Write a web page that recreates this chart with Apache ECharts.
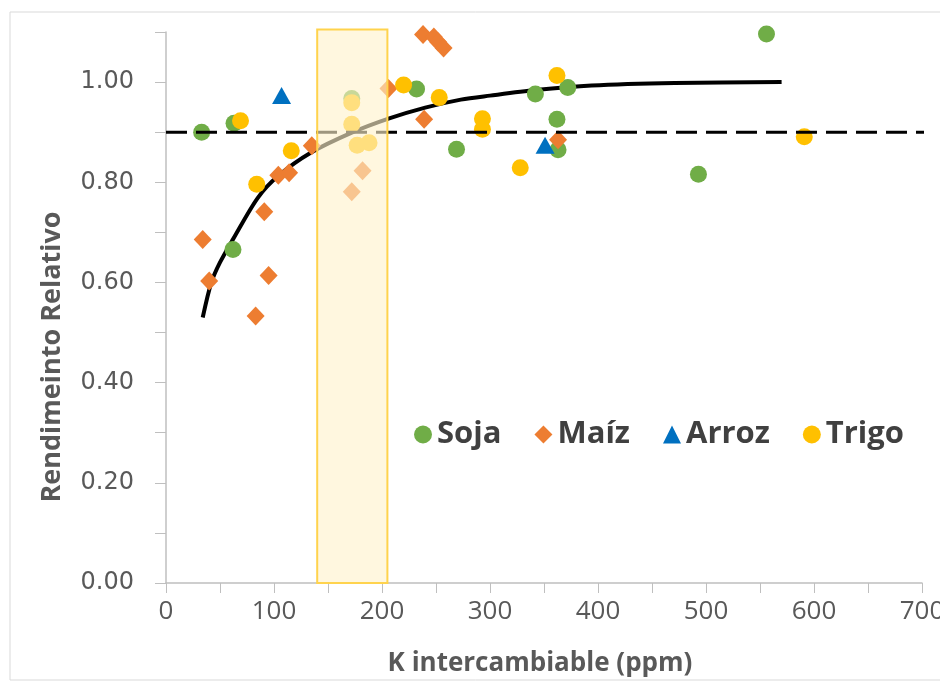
<!DOCTYPE html>
<html>
<head>
<meta charset="utf-8">
<script src="https://cdn.jsdelivr.net/npm/echarts@6/dist/echarts.min.js"></script>
<style>
html,body{margin:0;padding:0;background:#fff;}
#chart{width:940px;height:687px;}
</style>
</head>
<body>
<div id="chart"></div>
<script>
// ---- data ----
const soja = [[33,0.90],[63,0.918],[62,0.666],[172,0.967],[232,0.986],[269,0.866],[342,0.976],[362,0.926],[363,0.865],[372,0.989],[493,0.816],[556,1.096]];
const maiz = [[34,0.686],[40,0.603],[83,0.533],[91,0.741],[95,0.614],[104,0.814],[114,0.819],[135,0.873],[172,0.781],[182,0.823],[206,0.987],[239,0.926],[238,1.095],[248,1.09],[252,1.08],[257,1.068],[363,0.885]];
const arroz = [[107,0.973],[351,0.874]];
const trigo = [[69,0.923],[84,0.796],[116,0.863],[172,0.959],[172,0.916],[177,0.874],[188,0.879],[220,0.994],[253,0.969],[293,0.927],[293,0.906],[328,0.829],[362,1.013],[591,0.891]];
const curve = [[34,0.53],[42,0.60],[50,0.64],[62,0.686],[85,0.769],[104,0.813],[134,0.859],[172,0.899],[206,0.927],[240,0.949],[273,0.965],[300,0.973],[342,0.984],[394,0.993],[471,0.998],[570,1.0]];
const threshold = [[0,0.90],[711,0.90]];
const criticalRange = [[140,205,1.105]];
const legendNames = ['Soja','Maíz','Arroz','Trigo'];
const xTitle = 'K intercambiable (ppm)';
const yTitle = 'Rendimeinto Relativo';

const chart = echarts.init(document.getElementById('chart'));
const axisGray = '#bfbfbf';
const labelGray = '#595959';

chart.setOption({
  animation: false,
  backgroundColor: '#fff',
  grid: {left: 166, right: 18, top: 32, bottom: 104, outerBoundsMode: 'none', containLabel: false},
  graphic: [
    {type: 'rect', shape: {x: 10, y: 12, width: 940, height: 668}, style: {fill: 'none', stroke: '#d9d9d9', lineWidth: 1}, z: -10},
    {type: 'text', x: 540, y: 664, style: {text: xTitle, font: 'bold 26px "Open Sans"', fill: labelGray, textAlign: 'center', textVerticalAlign: 'middle'}},
    {type: 'text', x: 52, y: 357, rotation: Math.PI/2, style: {text: yTitle, font: 'bold 27px "Open Sans"', fill: labelGray, textAlign: 'center', textVerticalAlign: 'middle'}}
  ],
  legend: {
    data: legendNames,
    left: 409, top: 414,
    itemWidth: 18, itemHeight: 18, itemGap: 33,
    textStyle: {fontSize: 31, fontWeight: 'bold', color: '#404040', fontFamily: 'Open Sans'}
  },
  xAxis: {
    type: 'value', min: 0, max: 700, interval: 50,
    axisLine: {show: true, lineStyle: {color: axisGray, width: 1.5}},
    axisTick: {show: true, length: 10, lineStyle: {color: axisGray}},
    splitLine: {show: false},
    axisLabel: {margin: 16, color: labelGray, fontSize: 26, fontFamily: 'Open Sans',
      formatter: v => (Math.round(v) % 100 === 0 ? String(v) : '')}
  },
  yAxis: {
    type: 'value', min: 0, max: 1.1, interval: 0.1,
    axisLine: {show: true, lineStyle: {color: axisGray, width: 1.5}},
    axisTick: {show: true, length: 11, lineStyle: {color: axisGray}},
    splitLine: {show: false},
    axisLabel: {margin: 32, color: labelGray, fontSize: 24, fontFamily: 'DejaVu Sans',
      formatter: v => (Math.round(v * 10) % 2 === 0 ? v.toFixed(2) : '')}
  },
  series: [
    {type: 'line', name: 'curve', data: curve, smooth: 0.3, symbol: 'none', z: 1,
     lineStyle: {color: '#000', width: 4}},
    {type: 'scatter', name: 'Soja', data: soja, symbol: 'circle', symbolSize: 17, z: 2,
     itemStyle: {color: '#70AD47', opacity: 1}},
    {type: 'scatter', name: 'Maíz', data: maiz, symbol: 'diamond', symbolSize: [18, 19], z: 2,
     itemStyle: {color: '#ED7D31', opacity: 1}},
    {type: 'scatter', name: 'Arroz', data: arroz, symbol: 'triangle', symbolSize: [19, 17], z: 2,
     itemStyle: {color: '#0070C0', opacity: 1}},
    {type: 'scatter', name: 'Trigo', data: trigo, symbol: 'circle', symbolSize: 17, z: 2,
     itemStyle: {color: '#FFC000', opacity: 1}},
    {type: 'line', name: 'umbral', data: threshold, symbol: 'none', clip: false, z: 3,
     lineStyle: {color: '#000', width: 3, type: [21, 9]}},
    {type: 'custom', name: 'rango', data: criticalRange, z: 4, clip: false,
     encode: {x: [0, 1], y: 2},
     renderItem: function (params, api) {
       const p0 = api.coord([api.value(0), 0]);
       const p1 = api.coord([api.value(1), api.value(2)]);
       return {type: 'rect',
         shape: {x: p0[0], y: p1[1], width: p1[0] - p0[0], height: p0[1] - p1[1]},
         style: {fill: 'rgba(255,242,204,0.62)', stroke: '#FFD34D', lineWidth: 2}};
     }}
  ]
});
</script>
</body>
</html>
